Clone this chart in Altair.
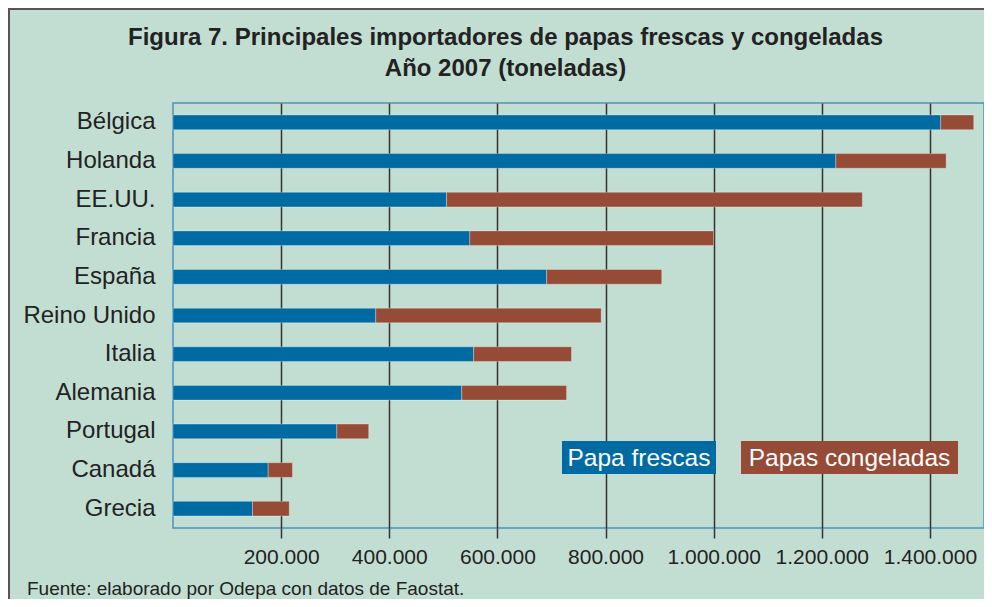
import altair as alt
import pandas as pd

paises = ["Bélgica", "Holanda", "EE.UU.", "Francia", "España", "Reino Unido",
          "Italia", "Alemania", "Portugal", "Canadá", "Grecia"]
frescas = [1420000, 1226000, 506000, 549000, 691000, 375000, 556000, 534000, 303000, 176000, 147000]
congeladas = [61000, 204000, 769000, 451000, 213000, 417000, 181000, 194000, 59000, 45000, 68000]
series = ["Papa frescas", "Papas congeladas"]
colores = ["#006BA3", "#964B37"]
ticks_x = [200000, 400000, 600000, 800000, 1000000, 1200000, 1400000]
titulo = ["Figura 7. Principales importadores de papas frescas y congeladas",
          "Año 2007 (toneladas)"]
fuente = "Fuente: elaborado por Odepa con datos de Faostat."

FONT = "Liberation Sans"
BG = "#C2DED2"
W, H = 811, 425

rows = []
for p, f, c in zip(paises, frescas, congeladas):
    rows.append({"pais": p, "serie": series[0], "valor": f, "orden": 0})
    rows.append({"pais": p, "serie": series[1], "valor": c, "orden": 1})
df = pd.DataFrame(rows)

bars = alt.Chart(df).mark_bar(stroke="white", strokeOpacity=0.3, strokeWidth=1).encode(
    y=alt.Y("pais:N", sort=paises,
            scale=alt.Scale(paddingInner=0.62, paddingOuter=0.31),
            axis=alt.Axis(title=None, ticks=False, domain=False, grid=False,
                          labelFontSize=24, labelFont=FONT, labelColor="#222",
                          labelPadding=18)),
    x=alt.X("valor:Q", stack="zero",
            scale=alt.Scale(domain=[0, 1500000], nice=False),
            axis=alt.Axis(title=None, values=ticks_x,
                          labelExpr="replace(format(datum.value, ','), regexp(',', 'g'), '.')",
                          grid=True, gridColor="#333", gridWidth=1.5,
                          ticks=True, tickSize=10, tickColor="#333", tickWidth=1.5,
                          domain=False, labelFontSize=21, labelFont=FONT,
                          labelColor="#222", labelPadding=8)),
    color=alt.Color("serie:N", scale=alt.Scale(domain=series, range=colores), legend=None),
    order=alt.Order("orden:Q"),
)

# legend boxes (layout in pixels)
leg_x = [(389, 543), (568, 785)]
leg_y = (338, 371)
legend_layers = []
for s, col, (x0, x1) in zip(series, colores, leg_x):
    d = pd.DataFrame({"serie": [s]})
    box = alt.Chart(d).mark_rect(color=col).encode(
        x=alt.value(x0), x2=alt.value(x1), y=alt.value(leg_y[0]), y2=alt.value(leg_y[1]))
    txt = alt.Chart(d).mark_text(font=FONT, fontSize=24.5, color="white",
                                 align="center", baseline="middle").encode(
        x=alt.value((x0 + x1) / 2), y=alt.value((leg_y[0] + leg_y[1]) / 2 + 1),
        text="serie:N")
    legend_layers += [box, txt]

footer = alt.Chart(pd.DataFrame({"t": [fuente]})).mark_text(
    font=FONT, fontSize=19, color="#222", align="left", baseline="middle").encode(
    x=alt.value(-146), y=alt.value(486), text="t:N")

border_top = alt.Chart(pd.DataFrame({"a": [0]})).mark_rule(color="#555", strokeWidth=2).encode(
    x=alt.value(-165), x2=alt.value(W), y=alt.value(-94))
border_left = alt.Chart(pd.DataFrame({"a": [0]})).mark_rule(color="#555", strokeWidth=2).encode(
    x=alt.value(-164), y=alt.value(-95), y2=alt.value(H + 71))

chart = alt.layer(bars, *legend_layers, footer, border_top, border_left).properties(
    width=W, height=H,
    autosize=alt.AutoSizeParams(type="none"),
    padding={"left": 165, "top": 95, "right": 0, "bottom": 71},
    background=BG,
    title=alt.TitleParams(text=titulo, font=FONT, fontSize=24, fontWeight="bold",
                          color="#222", anchor="middle", frame="group", dx=-73,
                          offset=-74, lineHeight=31),
).configure_view(stroke="#4A94BF", strokeWidth=1.5)

chart.save("out.html", embed_options={"renderer": "svg", "actions": False})
